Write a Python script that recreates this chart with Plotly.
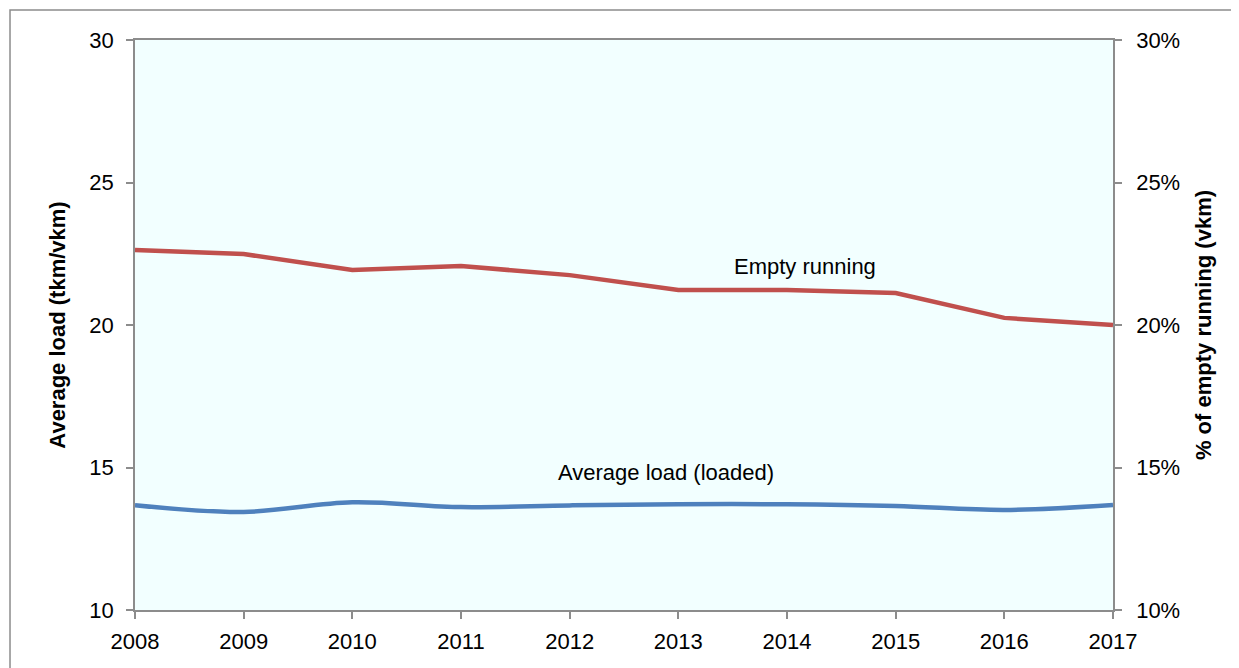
import plotly.graph_objects as go

years = [2008, 2009, 2010, 2011, 2012, 2013, 2014, 2015, 2016, 2017]
avg_load = [13.68, 13.44, 13.78, 13.61, 13.67, 13.71, 13.71, 13.65, 13.51, 13.68]
empty_running = [0.2263, 0.2249, 0.2193, 0.2207, 0.2175, 0.2123, 0.2123, 0.2112, 0.2025, 0.2000]

FONT = "Liberation Sans Narrow, Arial Narrow, Arial, Liberation Sans, sans-serif"
GREY = "#8c8c8c"

fig = go.Figure()
fig.add_trace(go.Scatter(
    x=years, y=avg_load, mode="lines", name="Average load (loaded)",
    line={"color": "#4F81BD", "width": 4.5, "shape": "spline", "smoothing": 1.0},
    yaxis="y", showlegend=False,
))
fig.add_trace(go.Scatter(
    x=years, y=empty_running, mode="lines", name="Empty running",
    line={"color": "#C0504D", "width": 4.5},
    yaxis="y2", showlegend=False,
))

axis_common = dict(
    showline=True, linecolor=GREY, linewidth=1.5, ticks="outside", ticklen=7,
    tickcolor=GREY, tickwidth=1.5, showgrid=False, zeroline=False,
    tickfont={"family": FONT, "size": 22, "color": "black"},
)

# page body adds an 8px offset, so the figure is 8px smaller and margins shifted
fig.update_layout(
    width=1231, height=660,
    margin={"l": 127, "r": 126, "t": 32, "b": 58, "autoexpand": False},
    paper_bgcolor="white",
    plot_bgcolor="#F2FFFF",
    font={"family": FONT, "size": 22, "color": "black"},
    xaxis=dict(axis_common, range=[2008, 2017], tickmode="array", tickvals=years,
               mirror=True, ticklabelstandoff=4),
    yaxis=dict(axis_common, range=[10, 30], dtick=5, tick0=10, ticklabelstandoff=8,
               title={"text": "<b>Average load (tkm/vkm)</b>",
                      "font": {"family": FONT, "size": 22}, "standoff": 18}),
    yaxis2=dict(axis_common, range=[0.10, 0.30], dtick=0.05, tick0=0.10,
                tickformat=".0%", overlaying="y", side="right", ticklabelstandoff=10,
                title={"text": "<b>% of empty running (vkm)</b>",
                       "font": {"family": FONT, "size": 22}, "standoff": 16}),
    annotations=[
        dict(x=2014.17, y=22.07, xref="x", yref="y", text="Empty running",
             showarrow=False, font={"family": FONT, "size": 22}),
        dict(x=2012.89, y=14.84, xref="x", yref="y", text="Average load (loaded)",
             showarrow=False, font={"family": FONT, "size": 22}),
    ],
    shapes=[
        dict(type="rect", xref="paper", yref="paper",
             x0=-0.1278, x1=1.3, y0=-0.3, y1=1.0526,
             line={"color": GREY, "width": 1.5}, layer="below"),
    ],
)

fig.write_html("out.html")
